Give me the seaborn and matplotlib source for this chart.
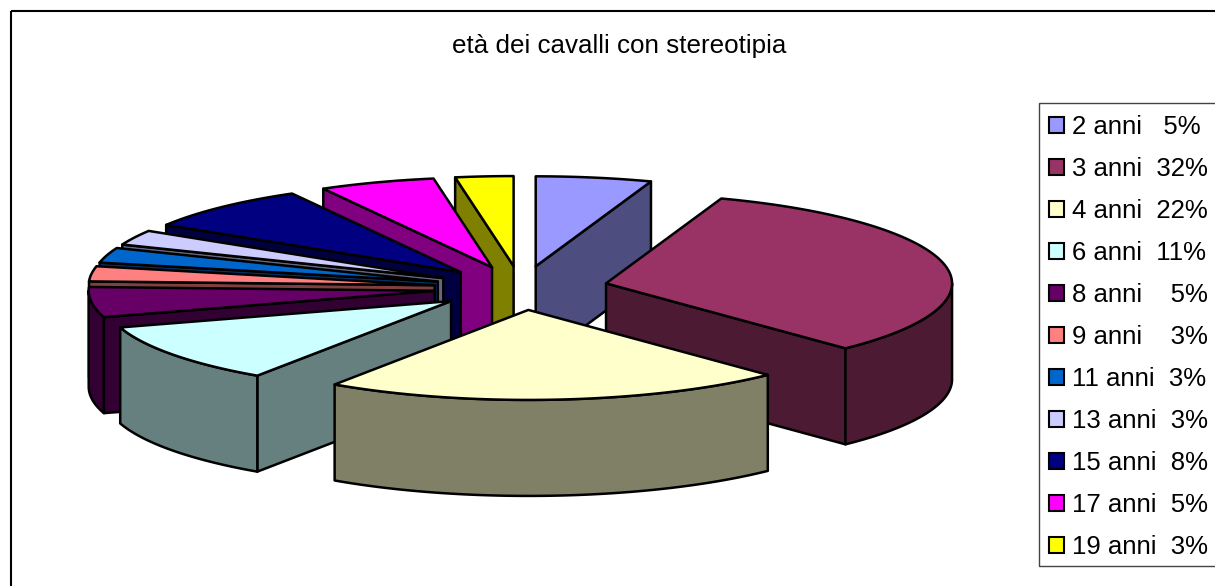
import numpy as np
import matplotlib
matplotlib.use("Agg")
import matplotlib.pyplot as plt
from matplotlib.patches import Polygon, Patch, Rectangle
import seaborn as sns

# data: number of horses per age
counts = [2, 12, 8, 4, 2, 1, 1, 1, 3, 2, 1]
labels = ["2 anni   5%", "3 anni  32%", "4 anni  22%", "6 anni  11%", "8 anni    5%",
          "9 anni    3%", "11 anni  3%", "13 anni  3%", "15 anni  8%", "17 anni  5%",
          "19 anni  3%"]
hex_colors = ["#9999FF", "#993366", "#FFFFCC", "#CCFFFF", "#660066", "#FF8080",
              "#0066CC", "#CCCCFF", "#000080", "#FF00FF", "#FFFF00"]
title = "età dei cavalli con stereotipia"

sns.set_theme(style="white")
plt.rcParams["font.family"] = ["Liberation Sans", "DejaVu Sans"]
palette = sns.color_palette(hex_colors)

# projected pie geometry, in pixels
cx, cy = 521, 288
rx, ry = 346, 90
explode = 87
explode_y = 22
depth = 96
line = 1.8


def point(ox, oy, ang):
    return ox + rx * np.sin(ang), oy - ry * np.cos(ang)


def arc(ox, oy, a0, a1):
    t = np.linspace(a0, a1, max(int(np.degrees(a1 - a0)), 2))
    return np.column_stack([ox + rx * np.sin(t), oy - ry * np.cos(t)])


fig = plt.figure(figsize=(12.15, 5.86), dpi=100)
ax = fig.add_axes([0, 0, 1, 1])
ax.set_xlim(0, 1215)
ax.set_ylim(586, 0)
ax.axis("off")

# chart frame runs off the right and bottom of the picture
ax.add_patch(Rectangle((11, 11), 1300, 700, fill=False, ec="black", lw=1.5))
ax.text(619.5, 46, title, ha="center", va="center", fontsize=18.7, color="black")

shares = np.array(counts) / sum(counts)
ends = np.cumsum(shares) * 2 * np.pi
starts = ends - shares * 2 * np.pi
mids = (starts + ends) / 2

# painter's order: back slices first
for i in np.argsort(-np.cos(mids)):
    a0, a1, m = starts[i], ends[i], mids[i]
    ox = cx + explode * np.sin(m)
    oy = cy - explode_y * np.cos(m)
    top = palette[i]
    side = tuple(c * 0.5 for c in top)
    style = dict(fc=side, ec="black", lw=line, joinstyle="round")

    # cut faces: only those turned towards the viewer
    faces = []
    if a1 < np.pi:
        faces.append(a1)
    if a0 > np.pi:
        faces.append(a0)
    for a in faces:
        px, py = point(ox, oy, a)
        ax.add_patch(Polygon([(ox, oy), (px, py), (px, py + depth), (ox, oy + depth)], **style))

    # outer wall, only the part facing the viewer
    w0, w1 = max(a0, np.pi / 2), min(a1, 3 * np.pi / 2)
    if w1 > w0:
        rim = arc(ox, oy, w0, w1)
        ax.add_patch(Polygon(np.vstack([rim, rim[::-1] + [0, depth]]), **style))

    ax.add_patch(Polygon(np.vstack([[ox, oy], arc(ox, oy, a0, a1)]),
                         fc=top, ec="black", lw=line, joinstyle="round"))

# legend box, also cut by the right edge
ax.add_patch(Rectangle((1039, 103), 300, 463, fc="white", ec="#444444", lw=1.0))
handles = [Patch(fc=palette[i], ec="black", lw=1.5) for i in range(len(labels))]
ax.legend(handles, labels, loc="upper left", bbox_to_anchor=(1037, 103),
          bbox_transform=ax.transData, fontsize=18.5, frameon=False,
          borderaxespad=0, borderpad=0.47, labelspacing=0.70,
          handlelength=0.6, handleheight=0.6, handletextpad=0.3, labelcolor="black")

fig.savefig("out.png", dpi=100)
